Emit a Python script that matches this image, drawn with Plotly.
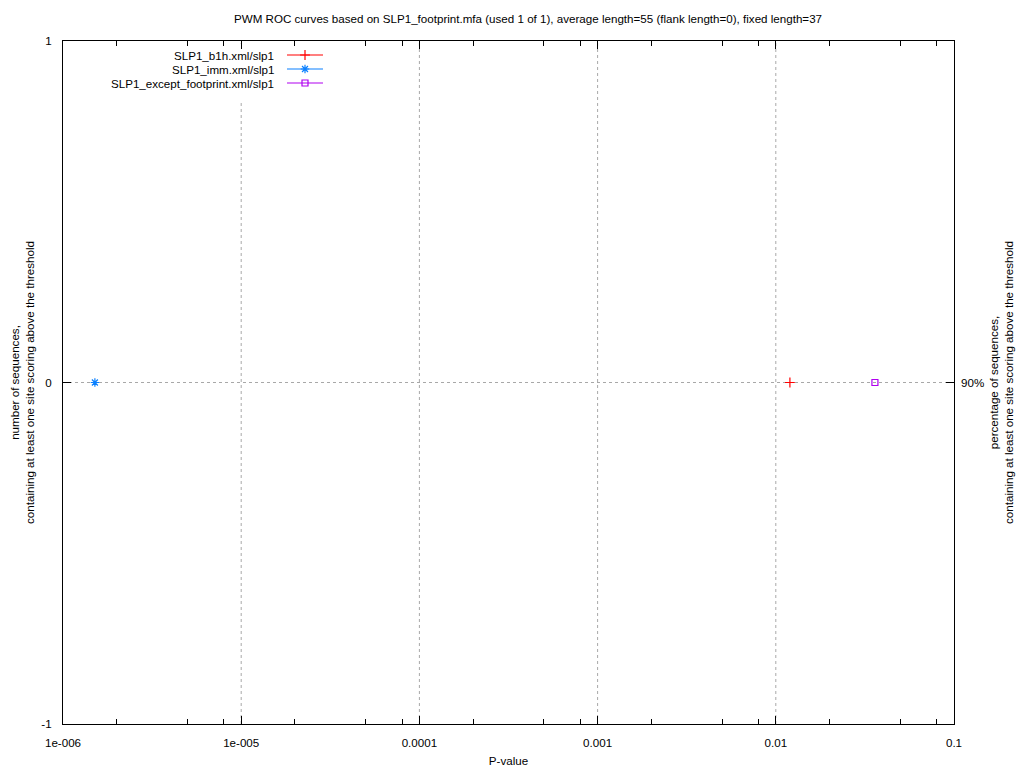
import plotly.graph_objects as go

# Data
series_names = ["SLP1_b1h.xml/slp1", "SLP1_imm.xml/slp1", "SLP1_except_footprint.xml/slp1"]
p_values = [0.0120, 1.51e-6, 0.036]
counts = [0, 0, 0]
colors = ["#ff0000", "#0a80ff", "#b000f0"]
symbols = ["cross-thin-open", "asterisk-open", "square-open"]
x_tickvals = [1e-6, 1e-5, 1e-4, 1e-3, 1e-2, 1e-1]
x_ticktext = ["1e-006", "1e-005", "0.0001", "0.001", "0.01", "0.1"]
y_tickvals = [-1, 0, 1]
y_ticktext = ["-1", "0", "1"]
y2_tickvals = [0]
y2_ticktext = ["90%"]

title = "PWM ROC curves based on SLP1_footprint.mfa (used 1 of 1), average length=55 (flank length=0), fixed length=37"

FONT = "Liberation Sans, Arial, sans-serif"
FS = 11.6
L, R, T, B = 63, 954, 41, 724
W, H = 1024, 768

minor_vals = []
for d in [1e-6, 1e-5, 1e-4, 1e-3, 1e-2]:
    for m in (2, 5, 8):
        minor_vals.append(d * m)


def msize(s):
    return 6 if s == "square-open" else 7


fig = go.Figure()

for name, xv, yv, c, s in zip(series_names, p_values, counts, colors, symbols):
    fig.add_trace(go.Scatter(
        x=[xv], y=[yv], mode="markers", name=name, showlegend=False,
        marker=dict(symbol=s, size=msize(s), color=c,
                    line=dict(color=c, width=1.2)),
        xaxis="x", yaxis="y"))

# manual legend (gnuplot style: text right, sample to the right)
leg_rows_y = [55, 69, 83]
for i, (name, c, s) in enumerate(zip(series_names, colors, symbols)):
    yy = leg_rows_y[i]
    fig.add_trace(go.Scatter(
        x=[287, 305, 323], y=[yy, yy, yy], mode="lines",
        line=dict(color=c, width=1.2), showlegend=False, hoverinfo="skip",
        xaxis="x2", yaxis="y3"))
    fig.add_trace(go.Scatter(
        x=[305], y=[yy], mode="markers", showlegend=False, hoverinfo="skip",
        marker=dict(symbol=s, size=msize(s), color=c,
                    line=dict(color=c, width=1.2)),
        xaxis="x2", yaxis="y3"))
    fig.add_annotation(x=276, y=yy, xref="x2", yref="y3", text=name,
                       showarrow=False, xanchor="right", yanchor="middle",
                       font=dict(family=FONT, size=FS, color="#000"))

# grid lines (dotted)
for v in x_tickvals[1:-1]:
    fig.add_shape(type="line", xref="x", yref="y", x0=v, x1=v, y0=-1, y1=1,
                  line=dict(color="#a8a8a8", width=1, dash="dot"), layer="below")
fig.add_shape(type="line", xref="x", yref="y", x0=1e-6, x1=1e-1, y0=0, y1=0,
              line=dict(color="#a8a8a8", width=1, dash="dot"), layer="below")
# blank legend box area
fig.add_shape(type="rect", xref="x2", yref="y3", x0=100, x1=330, y0=44, y1=100,
              fillcolor="white", line=dict(width=0), layer="below")

fig.update_layout(
    width=W, height=H,
    margin=dict(l=L, r=W - R, t=T, b=H - B, autoexpand=False),
    paper_bgcolor="white", plot_bgcolor="white",
    showlegend=False,
    title=dict(text=title, x=528 / W, xanchor="center", y=1 - 19 / H, yanchor="middle",
               font=dict(family=FONT, size=FS, color="#000")),
    xaxis=dict(type="log", range=[-6, -1], tickvals=x_tickvals, ticktext=x_ticktext,
               ticks="inside", ticklen=8, tickcolor="#000", showgrid=False,
               showline=True, linecolor="#000", linewidth=1, mirror="ticks",
               zeroline=False, automargin=False, ticklabelstandoff=8,
               minor=dict(tickvals=minor_vals, ticks="inside", ticklen=5,
                          tickcolor="#000", showgrid=False),
               tickfont=dict(family=FONT, size=FS, color="#000"),
               title=dict(text="P-value", font=dict(family=FONT, size=FS, color="#000"),
                          standoff=8)),
    yaxis=dict(range=[-1, 1], tickvals=y_tickvals, ticktext=y_ticktext,
               ticks="inside", ticklen=8, tickcolor="#000", showgrid=False,
               showline=True, linecolor="#000", linewidth=1, mirror="ticks",
               zeroline=False, ticklabelstandoff=8, automargin=False,
               tickfont=dict(family=FONT, size=FS, color="#000"),
               title=dict(text="number of sequences,<br>containing at least one site scoring above the threshold",
                          font=dict(family=FONT, size=FS, color="#000"), standoff=4)),
    yaxis2=dict(range=[-1, 1], overlaying="y", side="right", tickvals=y2_tickvals,
                ticktext=y2_ticktext, ticks="inside", ticklen=8, tickcolor="#000",
                showgrid=False, zeroline=False, showline=False, automargin=False,
                ticklabelstandoff=6,
                tickfont=dict(family=FONT, size=FS, color="#000"),
                title=dict(text="percentage of sequences,<br>containing at least one site scoring above the threshold",
                           font=dict(family=FONT, size=FS, color="#000"), standoff=6)),
    xaxis2=dict(range=[L, R], overlaying="x", visible=False, fixedrange=True),
    yaxis3=dict(range=[B, T], overlaying="y", visible=False, fixedrange=True),
)

fig.add_trace(go.Scatter(x=[1e-3], y=[0], mode="markers", marker=dict(opacity=0),
                         showlegend=False, hoverinfo="skip", xaxis="x", yaxis="y2"))

fig.write_html("out.html", config={"displayModeBar": False},
               post_script="document.body.style.margin='0px';")
